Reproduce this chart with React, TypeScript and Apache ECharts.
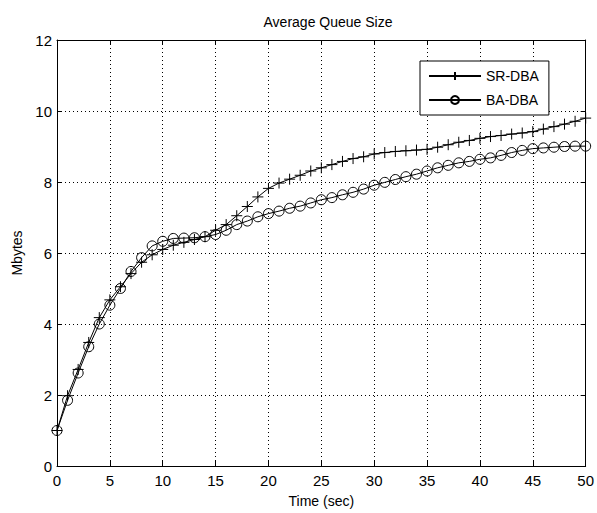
import React, { useEffect, useRef } from "react";
import * as echarts from "echarts";

const times: number[] = Array.from({ length: 51 }, (_, i) => i);

const srDba: number[] = [
  1.0, 1.98, 2.72, 3.48, 4.18, 4.68, 5.05, 5.42, 5.74, 5.95,
  6.10, 6.22, 6.30, 6.38, 6.46, 6.64, 6.80, 7.05, 7.31, 7.58,
  7.82, 7.97, 8.08, 8.19, 8.31, 8.40, 8.49, 8.58, 8.66, 8.71,
  8.79, 8.83, 8.86, 8.88, 8.90, 8.92, 8.98, 9.05, 9.12, 9.17,
  9.23, 9.28, 9.31, 9.35, 9.38, 9.42, 9.49, 9.56, 9.63, 9.71,
  9.80,
];

const baDba: number[] = [
  1.0, 1.85, 2.62, 3.36, 4.0, 4.53, 5.0, 5.48, 5.87, 6.20,
  6.33, 6.41, 6.42, 6.43, 6.46, 6.52, 6.64, 6.80, 6.90, 7.02,
  7.11, 7.18, 7.26, 7.32, 7.41, 7.50, 7.56, 7.64, 7.71, 7.80,
  7.91, 7.99, 8.07, 8.15, 8.22, 8.31, 8.40, 8.47, 8.54, 8.58,
  8.64, 8.68, 8.75, 8.83, 8.89, 8.94, 8.96, 8.98, 9.00, 9.01,
  9.01,
];

const FONT = "'Liberation Sans Narrow', 'Liberation Sans', Arial, sans-serif";

export default function App() {
  const ref = useRef<HTMLDivElement>(null);
  useEffect(() => {
    if (!ref.current) return;
    const chart = echarts.init(ref.current, undefined, { renderer: "svg" });
    const tickStyle = { show: true, inside: true, length: 5, lineStyle: { color: "#000", width: 1 } };
    const gridLine = { show: true, lineStyle: { color: "#000", width: 1, type: [1, 3] as any } };
    chart.setOption({
      animation: false,
      backgroundColor: "#fff",
      title: {
        text: "Average Queue Size",
        left: 323,
        textAlign: "center",
        top: 10,
        textStyle: { fontFamily: FONT, fontSize: 14, fontWeight: "normal", color: "#000" },
      },
      grid: { left: 57, top: 40, right: 7, bottom: 42, containLabel: false },
      legend: {
        orient: "vertical",
        left: 420,
        top: 61,
        itemWidth: 52,
        itemHeight: 10,
        itemGap: 10,
        padding: [8, 10, 8, 8],
        borderColor: "#000",
        borderWidth: 1,
        backgroundColor: "#fff",
        textStyle: { fontFamily: FONT, fontSize: 14, color: "#000" },
        data: ["SR-DBA", "BA-DBA"],
      },
      xAxis: [
        {
          type: "value",
          min: 0,
          max: 50,
          interval: 5,
          name: "Time (sec)",
          nameLocation: "middle",
          nameGap: 28,
          nameTextStyle: { fontFamily: FONT, fontSize: 14, color: "#000" },
          axisLine: { show: true, onZero: false, lineStyle: { color: "#000", width: 1 } },
          axisTick: tickStyle,
          axisLabel: { fontFamily: FONT, fontSize: 15, color: "#000", margin: 7 },
          splitLine: gridLine,
        },
        {
          type: "value",
          position: "top",
          min: 0,
          max: 50,
          interval: 5,
          axisLine: { show: true, onZero: false, lineStyle: { color: "#000", width: 1 } },
          axisTick: tickStyle,
          axisLabel: { show: false },
          splitLine: { show: false },
        },
      ],
      yAxis: [
        {
          type: "value",
          min: 0,
          max: 12,
          interval: 2,
          name: "Mbytes",
          nameLocation: "middle",
          nameGap: 33,
          nameRotate: 90,
          nameTextStyle: { fontFamily: FONT, fontSize: 14, color: "#000" },
          axisLine: { show: true, onZero: false, lineStyle: { color: "#000", width: 1 } },
          axisTick: tickStyle,
          axisLabel: { fontFamily: FONT, fontSize: 15, color: "#000", margin: 5 },
          splitLine: gridLine,
        },
        {
          type: "value",
          position: "right",
          min: 0,
          max: 12,
          interval: 2,
          axisLine: { show: true, onZero: false, lineStyle: { color: "#000", width: 1 } },
          axisTick: tickStyle,
          axisLabel: { show: false },
          splitLine: { show: false },
        },
      ],
      series: [
        {
          name: "SR-DBA",
          type: "line",
          data: times.map((t, i) => [t, srDba[i]]),
          symbol: "path://M5,0 L5,10 M0,5 L10,5",
          symbolSize: 11,
          showAllSymbol: true,
          lineStyle: { color: "#000", width: 1 },
          itemStyle: { color: "transparent", borderColor: "#000", borderWidth: 1 },
          emphasis: { disabled: true },
          z: 3,
        },
        {
          name: "BA-DBA",
          type: "line",
          data: times.map((t, i) => [t, baDba[i]]),
          symbol: "circle",
          symbolSize: 10,
          showAllSymbol: true,
          lineStyle: { color: "#000", width: 1 },
          itemStyle: { color: "transparent", borderColor: "#000", borderWidth: 1 },
          emphasis: { disabled: true },
          z: 3,
        },
      ],
    });
    return () => chart.dispose();
  }, []);
  return (
    <div
      ref={ref}
      style={{ position: "fixed", left: 0, top: 0, width: 597, height: 513 }}
    />
  );
}
